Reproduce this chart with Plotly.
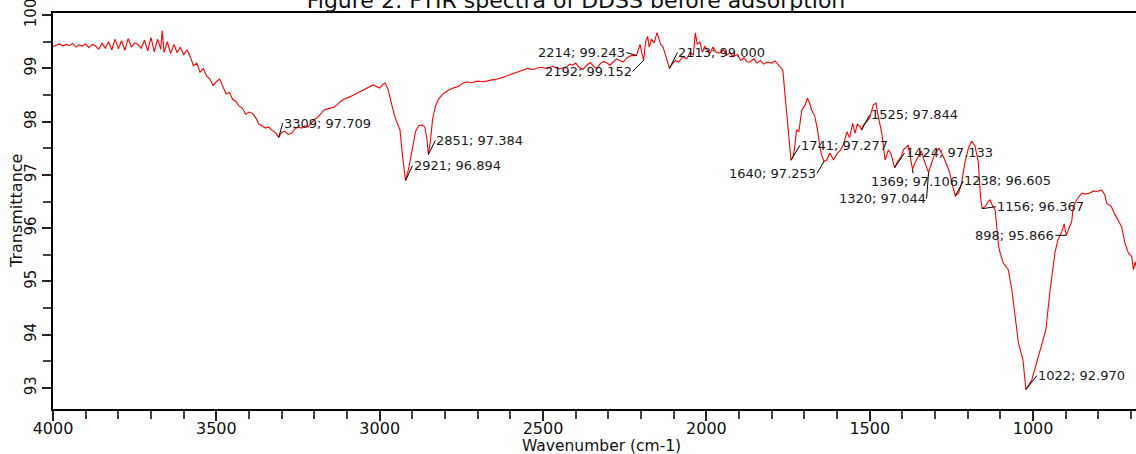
import plotly.graph_objects as go

# ---------------- data ----------------
wavenumber = [
    4000, 3990, 3980, 3970, 3960, 3950, 3940, 3930, 3920, 3910, 3900, 3890, 3880, 3870,
    3860, 3850, 3840, 3830, 3820, 3810, 3800, 3790, 3780, 3770, 3760, 3750, 3740, 3730,
    3720, 3710, 3700, 3690, 3680, 3670, 3666, 3660, 3650, 3640, 3630, 3620, 3610, 3600,
    3590, 3580, 3570, 3560, 3550, 3540, 3530, 3520, 3510, 3500, 3490, 3480, 3470, 3460,
    3450, 3440, 3430, 3420, 3410, 3400, 3390, 3380, 3370, 3360, 3350, 3340, 3330, 3320,
    3309, 3300, 3290, 3280, 3270, 3260, 3250, 3240, 3230, 3220, 3210, 3200, 3190, 3180,
    3170, 3160, 3150, 3140, 3130, 3120, 3110, 3100, 3090, 3080, 3070, 3060, 3050, 3040,
    3030, 3020, 3010, 3000, 2990, 2984, 2975, 2965, 2955, 2945, 2938, 2930, 2921, 2912,
    2905, 2899, 2890, 2880, 2870, 2862, 2856, 2851, 2845, 2838, 2830, 2820, 2805, 2790,
    2776, 2760, 2745, 2733, 2720, 2700, 2680, 2660, 2640, 2620, 2601, 2590, 2575, 2560,
    2549, 2530, 2510, 2488, 2470, 2450, 2427, 2418, 2410, 2400, 2390, 2378, 2365, 2355,
    2345, 2335, 2325, 2315, 2304, 2295, 2285, 2275, 2265, 2255, 2243, 2230, 2214, 2203,
    2198, 2192, 2186, 2180, 2175, 2168, 2160, 2151, 2145, 2140, 2133, 2125, 2118, 2113,
    2105, 2095, 2085, 2072, 2060, 2050, 2040, 2034, 2028, 2020, 2012, 2005, 1998, 1990,
    1980, 1970, 1958, 1948, 1938, 1928, 1918, 1905, 1895, 1885, 1875, 1867, 1855, 1845,
    1835, 1825, 1814, 1800, 1790, 1784, 1775, 1766, 1760, 1752, 1746, 1741, 1735, 1730,
    1724, 1717, 1708, 1698, 1691, 1684, 1678, 1668, 1660, 1652, 1646, 1640, 1632, 1622,
    1611, 1600, 1590, 1580, 1570, 1562, 1552, 1545, 1538, 1530, 1525, 1518, 1509, 1500,
    1489, 1481, 1474, 1463, 1453, 1443, 1435, 1430, 1424, 1415, 1404, 1397, 1382, 1375,
    1369, 1360, 1351, 1342, 1335, 1327, 1320, 1312, 1300, 1288, 1275, 1262, 1256, 1246,
    1238, 1228, 1219, 1209, 1198, 1188, 1178, 1168, 1161, 1156, 1145, 1137, 1132, 1124,
    1116, 1106, 1101, 1091, 1076, 1065, 1050, 1045, 1031, 1022, 1004, 989, 974, 961,
    948, 933, 924, 912, 905, 898, 890, 882, 877, 867, 851, 840, 826, 815,
    805, 790, 780, 775, 760, 749, 729, 719, 708, 698, 693, 688, 685,
]

transmittance = [
    99.41, 99.44, 99.46, 99.42, 99.45, 99.43, 99.47, 99.40, 99.44, 99.42, 99.46, 99.39, 99.45, 99.42,
    99.36, 99.47, 99.38, 99.50, 99.35, 99.55, 99.37, 99.52, 99.34, 99.56, 99.40, 99.48, 99.45, 99.38,
    99.53, 99.33, 99.58, 99.31, 99.55, 99.36, 99.71, 99.30, 99.50, 99.28, 99.45, 99.30, 99.40, 99.25,
    99.35, 99.22, 99.05, 99.10, 98.93, 99.00, 98.86, 98.80, 98.68, 98.75, 98.80, 98.66, 98.52, 98.55,
    98.42, 98.38, 98.29, 98.25, 98.14, 98.18, 98.16, 98.08, 97.96, 97.92, 97.88, 97.90, 97.84, 97.80,
    97.709, 97.80, 97.82, 97.76, 97.78, 97.86, 97.90, 97.88, 97.92, 97.90, 97.98, 98.04, 98.08, 98.15,
    98.22, 98.24, 98.25, 98.27, 98.32, 98.38, 98.42, 98.44, 98.47, 98.50, 98.53, 98.57, 98.60, 98.62,
    98.66, 98.69, 98.66, 98.63, 98.70, 98.73, 98.62, 98.35, 98.12, 97.95, 97.85, 97.35, 96.894, 97.10,
    97.35, 97.52, 97.82, 97.93, 97.94, 97.90, 97.70, 97.384, 97.62, 98.05, 98.28, 98.42, 98.53, 98.59,
    98.63, 98.66, 98.72, 98.75, 98.73, 98.76, 98.75, 98.78, 98.80, 98.84, 98.88, 98.90, 98.93, 98.97,
    99.00, 98.98, 99.02, 99.00, 99.04, 98.99, 99.03, 99.08, 99.06, 99.10, 99.02, 98.98, 99.07, 99.11,
    99.04, 99.00, 99.09, 99.13, 99.10, 99.06, 99.12, 99.18, 99.15, 99.12, 99.20, 99.24, 99.243, 99.45,
    99.30, 99.152, 99.50, 99.60, 99.40, 99.55, 99.48, 99.67, 99.55, 99.45, 99.41, 99.25, 99.10, 99.000,
    99.08, 99.15, 99.12, 99.22, 99.18, 99.30, 99.25, 99.67, 99.45, 99.50, 99.30, 99.42, 99.35, 99.28,
    99.40, 99.30, 99.29, 99.35, 99.25, 99.30, 99.22, 99.26, 99.15, 99.20, 99.12, 99.12, 99.18, 99.10,
    99.15, 99.08, 99.12, 99.10, 99.14, 99.10, 99.05, 98.97, 98.55, 98.00, 97.60, 97.277, 97.34, 97.50,
    97.85, 97.81, 98.22, 98.31, 98.44, 98.35, 98.22, 98.10, 97.85, 97.50, 97.35, 97.253, 97.28, 97.41,
    97.28, 97.40, 97.46, 97.58, 97.81, 97.70, 97.97, 97.78, 97.95, 97.91, 97.844, 97.95, 98.00, 98.08,
    98.31, 98.35, 98.10, 97.78, 97.28, 97.47, 97.40, 97.30, 97.133, 97.25, 97.34, 97.47, 97.56, 97.30,
    97.106, 97.25, 97.34, 97.45, 97.30, 97.15, 97.044, 97.20, 97.41, 97.50, 97.35, 97.15, 97.06, 96.78,
    96.605, 96.66, 96.84, 97.22, 97.50, 97.63, 97.55, 97.25, 96.59, 96.367, 96.42, 96.50, 96.53, 96.42,
    96.34, 95.68, 95.54, 95.34, 95.22, 94.84, 94.09, 93.85, 93.53, 92.970, 93.15, 93.47, 93.77, 94.09,
    94.84, 95.54, 95.78, 95.94, 96.08, 95.866, 96.00, 96.12, 96.40, 96.53, 96.66, 96.64, 96.66, 96.70,
    96.69, 96.72, 96.62, 96.47, 96.40, 96.25, 96.03, 95.72, 95.53, 95.47, 95.22, 95.37, 95.30,
]

# labelled peaks
peak_wn = [3309, 2921, 2851, 2214, 2192, 2113, 1741, 1640, 1525, 1424, 1369, 1320, 1238, 1156, 898, 1022]
peak_t = [97.709, 96.894, 97.384, 99.243, 99.152, 99.000, 97.277, 97.253, 97.844, 97.133,
          97.106, 97.044, 96.605, 96.367, 95.866, 92.970]

# label placement (pixel offsets from the peak point and text anchor)
label_dx = [4, 7, 7, -10, -11, 8, 9, -7, 8, 10, 1.5, -2, 8, 14, -11, 11]
label_dy = [-14, -15, -14, -3, 11, -16, -15, 12, -15, -15, 12, 26, -15, -2, 0, -14]
label_anchor = ["left", "left", "left", "right", "right", "left", "left", "right", "left",
                "left", "center", "right", "left", "left", "right", "left"]

x_ticks = [4000, 3500, 3000, 2500, 2000, 1500, 1000]
y_ticks = [93, 94, 95, 96, 97, 98, 99, 100]

FONT = "DejaVu Sans"

fig = go.Figure()
fig.add_trace(go.Scatter(
    x=wavenumber, y=transmittance, mode="lines",
    line=dict(color="#ff0000", width=1.1),
    showlegend=False, hoverinfo="x+y",
))

for w, t, dx, dy, anc in zip(peak_wn, peak_t, label_dx, label_dy, label_anchor):
    fig.add_annotation(
        x=w, y=t, text=f"{w}; {t:.3f}",
        showarrow=True, arrowhead=0, arrowwidth=1, arrowcolor="#000000",
        ax=dx, ay=dy, xanchor=anc, yanchor="middle",
        font=dict(family=FONT, size=13, color="#1a1a1a"),
        borderpad=0,
    )

# axis titles placed as in the reference
fig.add_annotation(
    text="Transmittance", xref="paper", yref="paper",
    x=(16 - 53) / 1083, y=0.5, xanchor="center", yanchor="middle",
    textangle=-90, showarrow=False,
    font=dict(family=FONT, size=16, color="#111111"),
)
fig.add_annotation(
    text="Wavenumber (cm-1)", xref="paper", yref="paper",
    x=(601 - 53) / 1083, y=-(446 - 409) / 396, xanchor="center", yanchor="middle",
    showarrow=False, borderpad=0,
    font=dict(family=FONT, size=15.5, color="#111111"),
)

fig.update_layout(
    width=1136, height=454,
    margin=dict(l=53, r=0, t=13, b=45),
    paper_bgcolor="white", plot_bgcolor="white",
    title=dict(
        text="Figure 2: FTIR spectra of DDSS before adsorption",
        x=576 / 1136, xanchor="center", xref="container",
        y=1.0, yanchor="middle", yref="container",
        font=dict(family=FONT, size=22, color="#111111"),
    ),
    xaxis=dict(
        range=[4000, 685], tickvals=x_ticks, ticktext=[str(v) for v in x_ticks],
        showgrid=False, zeroline=False,
        showline=True, linecolor="#000000", linewidth=1.5, mirror=True,
        ticks="outside", ticklen=10, tickwidth=1.5, tickcolor="#222222",
        minor=dict(dtick=100, ticks="outside", ticklen=8, tickwidth=1.5, tickcolor="#444444"),
        tickfont=dict(family=FONT, size=16, color="#111111"),
        ticklabelstandoff=-6,
    ),
    yaxis=dict(
        range=[92.606, 100.04], tickvals=y_ticks, ticktext=[str(v) for v in y_ticks],
        showgrid=False, zeroline=False,
        showline=True, linecolor="#000000", linewidth=1.5, mirror=False,
        ticks="outside", ticklen=9, tickwidth=1.5, tickcolor="#222222",
        minor=dict(dtick=0.5, ticks="outside", ticklen=8, tickwidth=1.5, tickcolor="#444444"),
        tickangle=-90, ticklabeloverflow="allow",
        tickfont=dict(family=FONT, size=15, color="#111111"),
    ),
)

fig.write_html("out.html")
